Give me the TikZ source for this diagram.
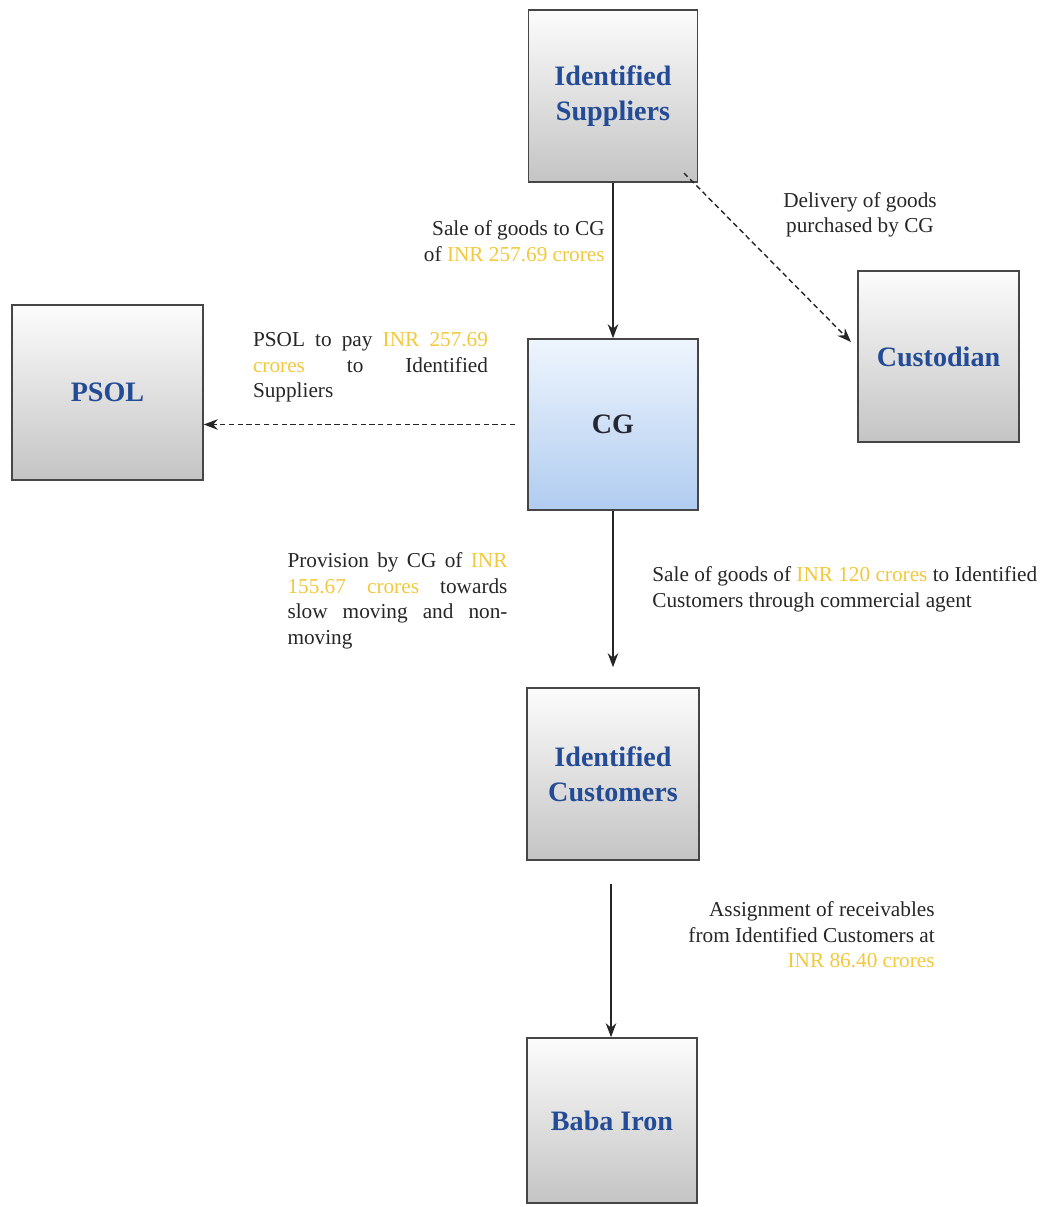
\documentclass[tikz,border=0pt]{standalone}
\usepackage{fontspec}
\setmainfont{Liberation Serif}
\usetikzlibrary{arrows.meta,calc}
\definecolor{labblue}{RGB}{35,75,150}
\definecolor{cgtext}{RGB}{35,40,50}
\definecolor{amt}{RGB}{242,200,60}
\definecolor{boxline}{RGB}{70,70,70}
\definecolor{graytop}{RGB}{252,252,252}
\definecolor{graymid}{RGB}{236,236,236}
\definecolor{graybot}{RGB}{196,196,196}
\definecolor{bluetop}{RGB}{238,245,253}
\definecolor{bluemid}{RGB}{210,228,248}
\definecolor{bluebot}{RGB}{176,204,240}
\newcommand{\amt}[1]{\textcolor{amt}{#1}}
\begin{document}
\begin{tikzpicture}[x=0.02cm,y=-0.02cm,
  box/.style={draw=boxline, line width=0.9pt, inner sep=0pt, align=center,
    font=\fontsize{16}{20}\selectfont\bfseries, text=labblue},
  graybox/.style={box, top color=graytop, middle color=graymid, bottom color=graybot},
  bluebox/.style={box, top color=bluetop, middle color=bluemid, bottom color=bluebot, text=cgtext},
  conn/.style={draw=black!85, line width=0.8pt, -{Stealth[length=8pt,width=6pt]}},
  dashconn/.style={conn, dash pattern=on 3pt off 2pt},
  lbl/.style={font=\fontsize{12.1}{14.5}\selectfont, text=black!85, inner sep=0pt}]
\useasboundingbox (0,0) rectangle (1047,1207);

\node[graybox, minimum width=3.38cm, minimum height=3.44cm] (sup) at (613,96) {Identified\\Suppliers};
\node[graybox, minimum width=3.82cm, minimum height=3.5cm] (psol) at (107.5,392.5) {PSOL};
\node[bluebox, minimum width=3.4cm, minimum height=3.42cm] (cg) at (613,424.5) {CG};
\node[graybox, minimum width=3.22cm, minimum height=3.42cm] (cust) at (938.5,356.5) {Custodian};
\node[graybox, minimum width=3.44cm, minimum height=3.44cm] (ic) at (613,774) {Identified\\Customers};
\node[graybox, minimum width=3.4cm, minimum height=3.3cm] (baba) at (612,1120.5) {Baba Iron};

\coordinate (psolin) at (psol.east |- cg.west);
\coordinate (cgout) at ($(cg.west)+(-12,0)$);
\coordinate (d1) at (684,173);
\coordinate (d2) at (851,342);
\coordinate (icin) at ($(ic.north)+(0,-20)$);
\coordinate (icout) at ($(ic.south)+(-2,23)$);

\draw[conn] (sup.south) -- (cg.north);
\draw[dashconn] (cgout) -- (psolin);
\draw[dashconn] (d1) -- (d2);
\draw[conn] (cg.south) -- (icin);
\draw[conn] (icout) -- (baba.north -| icout);

\node[lbl, align=right, anchor=east] (t1) at (605,241) {Sale of goods to CG\\of \amt{INR 257.69 crores}};
\node[lbl, align=center] (t2) at (860,215) {Delivery of goods\\purchased by CG};
\node[lbl, text width=4.7cm, align=justify] (t3) at (370.5,367.5) {PSOL to pay \amt{INR 257.69}\linebreak \amt{crores} to Identified\linebreak Suppliers};
\node[lbl, text width=4.4cm, align=justify] (t4) at (397.5,601) {Provision by CG of \amt{INR}\linebreak \amt{155.67 crores} towards\linebreak slow moving and non-\linebreak moving};
\node[lbl, align=left, anchor=west] (t5) at (652,589.5) {Sale of goods of \amt{INR 120 crores} to Identified\\Customers through commercial agent};
\node[lbl, align=right, anchor=east] (t6) at (935,935) {Assignment of receivables\\from Identified Customers at\\\amt{INR 86.40 crores}};
\end{tikzpicture}
\end{document}
